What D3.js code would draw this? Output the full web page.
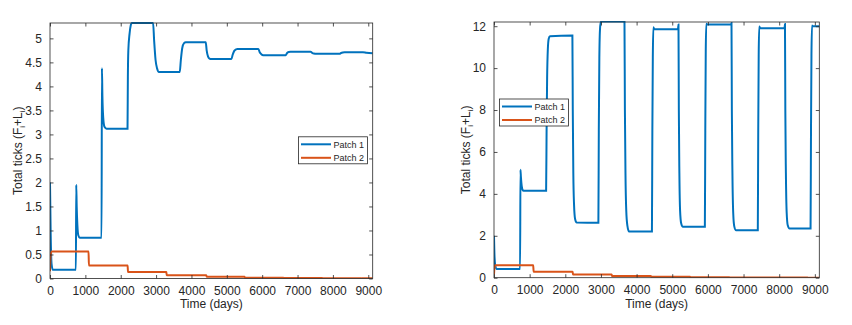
<!DOCTYPE html>
<html>
<head>
<meta charset="utf-8">
<script src="https://cdn.jsdelivr.net/npm/d3@7"></script>
<style>
body { margin: 0; background: #fff; }
svg text { font-family: "Liberation Sans", Arial, Helvetica, sans-serif; fill: #262626; }
</style>
</head>
<body>
<div id="chart"></div>
<script>
var width = 852;
var height = 325;

// tick labels
var xTicks = [0, 1000, 2000, 3000, 4000, 5000, 6000, 7000, 8000, 9000];
var leftYTicks = [0, 0.5, 1, 1.5, 2, 2.5, 3, 3.5, 4, 4.5, 5];
var rightYTicks = [0, 2, 4, 6, 8, 10, 12];
var seriesNames = ["Patch 1", "Patch 2"];
var colors = ["#0072BD", "#D95319"];

// left panel, [day, total ticks]
var leftPatch1 = [
    [0, 2.0], [20, 0.9], [45, 0.3], [80, 0.18], [732, 0.18], [742, 1.95], [755, 1.5],
    [775, 1.1], [800, 0.9], [840, 0.85], [1458, 0.85], [1468, 4.38], [1482, 3.8],
    [1505, 3.35], [1540, 3.16], [1600, 3.12], [2192, 3.12], [2202, 4.2], [2215, 4.75],
    [2250, 5.1], [2285, 5.28], [2310, 5.32], [2915, 5.32], [2945, 4.95], [2985, 4.55],
    [3030, 4.37], [3080, 4.30], [3669, 4.30], [3700, 4.55], [3740, 4.8], [3790, 4.9],
    [3840, 4.92], [4404, 4.92], [4430, 4.75], [4470, 4.62], [4510, 4.58], [4560, 4.57],
    [5130, 4.57], [5165, 4.66], [5210, 4.74], [5260, 4.77], [5300, 4.78], [5893, 4.78],
    [5930, 4.71], [5975, 4.67], [6030, 4.65], [6664, 4.65], [6700, 4.69], [6750, 4.715],
    [6800, 4.72], [7370, 4.72], [7410, 4.70], [7460, 4.685], [7530, 4.68], [8189, 4.68],
    [8230, 4.695], [8280, 4.705], [8330, 4.71], [8850, 4.71], [8950, 4.70], [9125, 4.69]
];
var leftPatch2 = [
    [0, 0.15], [15, 0.45], [40, 0.56], [1090, 0.56], [1100, 0.27], [2195, 0.27],
    [2205, 0.135], [3290, 0.135], [3300, 0.07], [4420, 0.07], [4430, 0.035],
    [5500, 0.035], [5510, 0.018], [6600, 0.018], [6610, 0.009], [7700, 0.009],
    [7710, 0.005], [8800, 0.005], [8810, 0.003], [9125, 0.003]
];

// right panel, [day, total ticks]
var rightPatch1 = [
    [0, 2.0], [15, 1.0], [35, 0.6], [70, 0.42], [732, 0.42], [742, 5.15], [755, 4.8],
    [775, 4.4], [800, 4.2], [830, 4.15], [1462, 4.15], [1475, 7.0], [1490, 9.5],
    [1510, 10.9], [1535, 11.4], [1570, 11.52], [2199, 11.55], [2210, 8.0], [2225, 5.0],
    [2245, 3.5], [2275, 2.8], [2320, 2.63], [2928, 2.62], [2940, 7.0], [2955, 10.5],
    [2975, 11.9], [3000, 12.22], [3660, 12.22], [3672, 8.0], [3688, 5.0], [3710, 3.2],
    [3740, 2.5], [3790, 2.2], [4430, 2.2], [4442, 7.0], [4455, 10.5], [4470, 11.95],
    [4500, 11.85], [5160, 11.85], [5175, 12.08], [5185, 8.0], [5200, 5.0], [5220, 3.2],
    [5250, 2.6], [5300, 2.43], [5915, 2.43], [5927, 7.0], [5940, 10.8], [5955, 12.12],
    [5985, 12.08], [6650, 12.08], [6662, 12.15], [6672, 8.0], [6688, 5.0], [6710, 3.1],
    [6740, 2.45], [6790, 2.26], [7400, 2.26], [7412, 7.0], [7425, 10.6], [7440, 11.98],
    [7470, 11.9], [8150, 11.9], [8162, 12.1], [8172, 8.0], [8188, 5.0], [8210, 3.1],
    [8240, 2.5], [8290, 2.35], [8880, 2.35], [8892, 7.0], [8905, 10.6], [8920, 12.03],
    [8950, 12.0], [9125, 12.0]
];
var rightPatch2 = [
    [0, 0.15], [15, 0.5], [40, 0.6], [1100, 0.6], [1112, 0.28], [2205, 0.28],
    [2217, 0.15], [3300, 0.15], [3312, 0.08], [4400, 0.08], [4412, 0.04],
    [5500, 0.04], [5512, 0.02], [6600, 0.02], [6612, 0.01], [7700, 0.01],
    [7712, 0.005], [8800, 0.005], [8812, 0.003], [9125, 0.003]
];

var svg = d3.select("#chart")
    .append("svg")
    .attr("width", width)
    .attr("height", height);

svg.append("rect").attr("width", width).attr("height", height).attr("fill", "#fff");

function drawPanel(p) {
    var x = d3.scaleLinear().domain([0, 9125]).range([p.left, p.right]);
    var y = d3.scaleLinear().domain([0, p.ymax]).range([p.bottom, p.top]);
    var g = svg.append("g");

    g.append("clipPath").attr("id", p.id)
        .append("rect")
        .attr("x", p.left).attr("y", p.top - 1)
        .attr("width", p.right - p.left).attr("height", p.bottom - p.top + 1);

    var line = d3.line()
        .x(function(d) { return x(d[0]); })
        .y(function(d) { return y(d[1]); })
        .curve(d3.curveMonotoneX);

    p.series.forEach(function(s, i) {
        g.append("path")
            .datum(s)
            .attr("clip-path", "url(#" + p.id + ")")
            .attr("fill", "none")
            .attr("stroke", colors[i])
            .attr("stroke-width", 2)
            .attr("d", line);
    });

    // axes, ticks pointing inward on all four sides
    var fmt = d3.format("~g");
    var bottom = g.append("g").attr("transform", "translate(0," + p.bottom + ")")
        .call(d3.axisBottom(x).tickValues(xTicks).tickFormat(d3.format("d"))
            .tickSizeInner(-3.5).tickSizeOuter(0).tickPadding(8));
    var top = g.append("g").attr("transform", "translate(0," + p.top + ")")
        .call(d3.axisTop(x).tickValues(xTicks).tickFormat("")
            .tickSizeInner(-3.5).tickSizeOuter(0));
    var leftAx = g.append("g").attr("transform", "translate(" + p.left + ",0)")
        .call(d3.axisLeft(y).tickValues(p.yTicks).tickFormat(fmt)
            .tickSizeInner(-3.5).tickSizeOuter(0).tickPadding(8));
    var rightAx = g.append("g").attr("transform", "translate(" + p.right + ",0)")
        .call(d3.axisRight(y).tickValues(p.yTicks).tickFormat("")
            .tickSizeInner(-3.5).tickSizeOuter(0));

    [bottom, top, leftAx, rightAx].forEach(function(a) {
        a.select(".domain").remove();
        a.selectAll("line").attr("stroke", "#262626").attr("stroke-width", 0.8);
        a.selectAll("text").attr("font-size", 12).attr("fill", "#262626")
            .style("font-family", "'Liberation Sans', Arial, sans-serif");
    });

    g.append("rect")
        .attr("x", p.left).attr("y", p.top)
        .attr("width", p.right - p.left).attr("height", p.bottom - p.top)
        .attr("fill", "none").attr("stroke", "#262626").attr("stroke-width", 0.8);

    // axis labels
    g.append("text")
        .attr("x", (p.left + p.right) / 2).attr("y", 307.5)
        .attr("text-anchor", "middle").attr("font-size", 12)
        .text("Time (days)");

    var yl = g.append("text")
        .attr("transform", "translate(" + p.labelX + "," + ((p.top + p.bottom) / 2) + ") rotate(-90)")
        .attr("text-anchor", "middle").attr("font-size", 12);
    yl.append("tspan").text("Total ticks (F");
    yl.append("tspan").attr("font-size", 8).attr("dy", 3).text("i");
    yl.append("tspan").attr("dy", -3).text("+L");
    yl.append("tspan").attr("font-size", 8).attr("dy", 3).text("i");
    yl.append("tspan").attr("dy", -3).text(")");

    // legend
    var lg = g.append("g");
    lg.append("rect")
        .attr("x", p.legX).attr("y", p.legY).attr("width", 69).attr("height", 27)
        .attr("fill", "#fff").attr("stroke", "#262626").attr("stroke-width", 0.8);
    seriesNames.forEach(function(name, i) {
        var yy = p.legY + 7.5 + i * 13.5;
        lg.append("line")
            .attr("x1", p.legX + 2.5).attr("x2", p.legX + 32.5)
            .attr("y1", yy).attr("y2", yy)
            .attr("stroke", colors[i]).attr("stroke-width", 2);
        lg.append("text")
            .attr("x", p.legX + 35).attr("y", yy + 3.2)
            .attr("font-size", 9).text(name);
    });
}

drawPanel({
    id: "clipL", left: 50, right: 372.7, top: 23, bottom: 278.5, ymax: 5.32,
    yTicks: leftYTicks, series: [leftPatch1, leftPatch2],
    labelX: 22, legX: 298.5, legY: 136.8
});

drawPanel({
    id: "clipR", left: 494, right: 819.3, top: 22, bottom: 277.7, ymax: 12.2,
    yTicks: rightYTicks, series: [rightPatch1, rightPatch2],
    labelX: 469.5, legX: 499.5, legY: 99
});
</script>
</body>
</html>
